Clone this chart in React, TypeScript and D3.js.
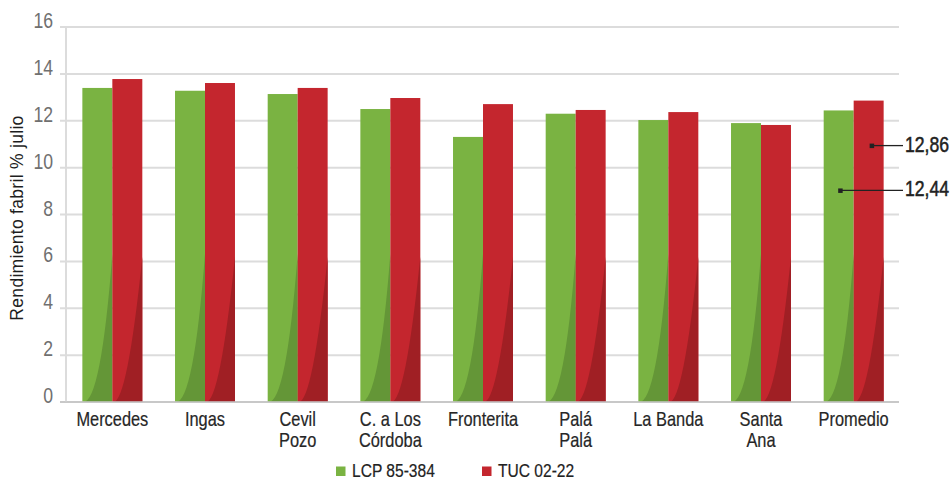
import React from "react";
import * as d3 from "d3";

// Sugar-cane factory yield (July) by locality, two varieties
const categories: string[][] = [
  ["Mercedes"],
  ["Ingas"],
  ["Cevil", "Pozo"],
  ["C. a Los", "Córdoba"],
  ["Fronterita"],
  ["Palá", "Palá"],
  ["La Banda"],
  ["Santa", "Ana"],
  ["Promedio"],
];
const seriesNames = ["LCP 85-384", "TUC 02-22"];
const lcpValues = [13.4, 13.28, 13.14, 12.5, 11.31, 12.3, 12.03, 11.9, 12.44];
const tucValues = [13.78, 13.61, 13.4, 12.97, 12.71, 12.46, 12.37, 11.82, 12.86];
const yTicks = [0, 2, 4, 6, 8, 10, 12, 14, 16];
const yTitle = "Rendimiento fabril % julio";

const W = 952;
const H = 480;
const SANS = "'Liberation Sans', Arial, sans-serif";
const NARROW_SCALE = 0.82;

const colors = ["#7ab342", "#c4262e"];
const shades = ["#649637", "#a01f24"];

// Narrow text: a regular sans face squeezed horizontally
function NText(props: {
  x: number;
  y: number;
  size: number;
  fill: string;
  anchor?: "start" | "middle" | "end";
  bold?: number;
  children: React.ReactNode;
}) {
  return (
    <text
      transform={`translate(${props.x},${props.y}) scale(${NARROW_SCALE},1)`}
      textAnchor={props.anchor || "start"}
      fontFamily={SANS}
      fontSize={props.size}
      fill={props.fill}
      stroke={props.bold ? props.fill : "none"}
      strokeWidth={props.bold || 0}
    >
      {props.children}
    </text>
  );
}

export default function App() {
  const plotLeft = 66;
  const plotRight = 900;
  const y = d3.scaleLinear().domain([0, 16]).range([402, 27]);
  const keys = categories.map((c) => c.join(" "));
  const x0 = d3
    .scaleBand<string>()
    .domain(keys)
    .range([plotLeft, plotRight])
    .paddingInner(0.353)
    .paddingOuter(0.1765);
  const x1 = d3.scaleBand<string>().domain(seriesNames).range([0, x0.bandwidth()]);
  const seriesValues = [lcpValues, tucValues];
  const base = y(0);
  const shadeCurve = [0.62, 0.5];
  const shadeHeight = [148, 145];

  const last = keys.length - 1;
  const promX = x0(keys[last])!;
  const bw = x1.bandwidth();
  const annotations = [
    { series: 1, value: tucValues[last], mx: promX + x1(seriesNames[1])! + bw * 0.6, my: y(tucValues[last]) + 45 },
    { series: 0, value: lcpValues[last], mx: promX + x1(seriesNames[0])! + bw * 0.55, my: y(lcpValues[last]) + 80 },
  ];
  const fmt = (v: number) => v.toFixed(2).replace(".", ",");

  return (
    <>
      <style>{`body{margin:0}`}</style>
      <svg width={W} height={H} style={{ display: "block", background: "#fff" }}>
        {/* grid */}
        {yTicks.map((t) => (
          <line
            key={"g" + t}
            x1={60}
            x2={899}
            y1={y(t)}
            y2={y(t)}
            stroke={t === 0 ? "#c8c8c8" : "#dcdcdc"}
            strokeWidth={2}
          />
        ))}
        <line x1={plotLeft} x2={plotLeft} y1={y(16)} y2={y(0)} stroke="#dcdcdc" strokeWidth={2} />
        {yTicks.map((t) => (
          <NText key={"t" + t} x={53} y={y(t) + 1} size={21.5} fill="#707070" anchor="end">
            {t}
          </NText>
        ))}
        <text
          transform={`translate(23,218) rotate(-90)`}
          textAnchor="middle"
          fontFamily={SANS}
          fontSize={17.5}
          letterSpacing={0.3}
          fill="#1e1e1e"
        >
          {yTitle}
        </text>

        {/* bars */}
        {keys.map((k, i) =>
          seriesNames.map((s, si) => {
            const bx = x0(k)! + x1(s)!;
            const by = y(seriesValues[si][i]);
            const hh = shadeHeight[si];
            const shade = `M${bx + 1},${base} Q${bx + bw * shadeCurve[si]},${base} ${bx + bw},${base - hh} L${bx + bw},${base} Z`;
            return (
              <g key={k + s}>
                <rect x={bx} y={by} width={bw} height={base - by} fill={colors[si]} />
                <path d={shade} fill={shades[si]} />
              </g>
            );
          })
        )}
        <line x1={60} x2={899} y1={base} y2={base} stroke="#c8c8c8" strokeWidth={1.5} />

        {/* category labels */}
        {categories.map((lines, i) => {
          const cx = x0(keys[i])! + x0.bandwidth() / 2;
          return (
            <g key={"c" + i}>
              {lines.map((l, li) => (
                <NText key={li} x={cx} y={426 + li * 21} size={20} fill="#262626" anchor="middle" bold={0.2}>
                  {l}
                </NText>
              ))}
            </g>
          );
        })}

        {/* value callouts for the average */}
        {annotations.map((a, i) => (
          <g key={"a" + i}>
            <rect x={a.mx - 2} y={a.my - 2} width={4.5} height={4.5} fill="#222" />
            <line x1={a.mx} x2={903} y1={a.my} y2={a.my} stroke="#222" strokeWidth={1.3} />
            <NText x={905} y={a.my + 6} size={21.5} fill="#222" bold={0.5}>
              {fmt(a.value)}
            </NText>
          </g>
        ))}

        {/* legend */}
        {seriesNames.map((s, si) => {
          const lx = si === 0 ? 336 : 482;
          return (
            <g key={"l" + s}>
              <rect x={lx} y={466.5} width={9.5} height={9.5} fill={colors[si]} />
              <NText x={lx + 16} y={477} size={19} fill="#222" bold={0.2}>
                {s}
              </NText>
            </g>
          );
        })}
      </svg>
    </>
  );
}
